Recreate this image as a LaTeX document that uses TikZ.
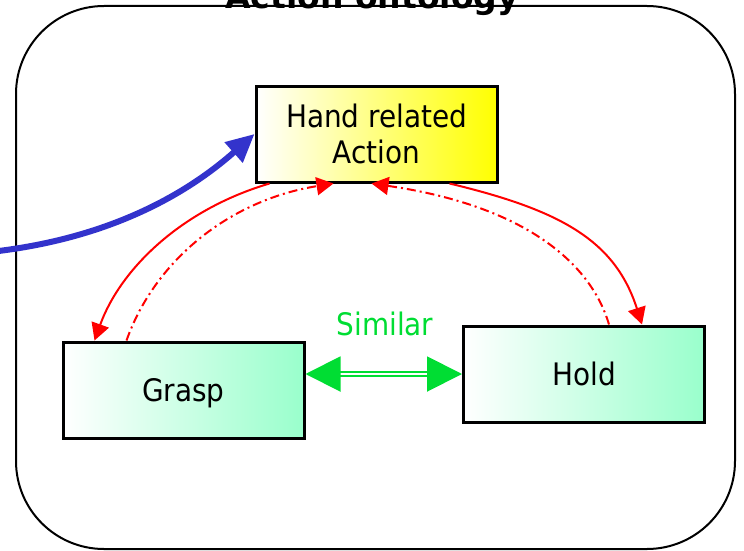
\documentclass[tikz,border=0pt]{standalone}
\usepackage{fontspec}
\setmainfont{DejaVu Sans Condensed}
\newfontfamily\titlefont{DejaVu Sans}
\usetikzlibrary{arrows.meta,calc}

\definecolor{mint}{RGB}{153,255,204}
\definecolor{linkred}{RGB}{255,0,0}
\definecolor{simgreen}{RGB}{0,221,51}
\definecolor{inblue}{RGB}{51,51,204}

\tikzset{
  concept/.style={draw=black, line width=3pt, rectangle, inner sep=0pt,
    minimum width=241pt, minimum height=96pt, align=center,
    font=\fontsize{31}{36}\selectfont},
  subconcept/.style={concept, left color=white, right color=mint,
    text height=22pt, text depth=0pt},
  isa/.style={draw=linkred, line width=2pt, -{Triangle[length=17pt,width=18pt]}},
  isaback/.style={isa, dash pattern=on 9pt off 4pt on 2pt off 4pt},
  simlink/.style={draw=simgreen, line width=2pt, double=white, double distance=2pt,
    {Triangle[length=35pt,width=35pt]}-{Triangle[length=35pt,width=35pt]}},
  inlink/.style={draw=inblue, line width=6pt, -{Triangle[length=28pt,width=26pt]}}
}

\begin{document}
\begin{tikzpicture}[x=1pt,y=-1pt]
  \clip (0,0) rectangle (744,551);

  % frame of the ontology with its title
  \draw[line width=2pt, rounded corners=88pt] (16,6) rectangle (735,549);
  \node[anchor=base, font=\titlefont\fontsize{33}{38}\selectfont\bfseries] (title) at (372,9) {Action ontology};

  % concepts
  \node[concept, left color=white, right color=yellow] (act) at (376.5,134) {Hand related\\Action};
  \node[subconcept] (grasp) at (183.5,390) {Grasp};
  \node[subconcept] (hold) at (584,374) {Hold};

  % similarity link
  \draw[simlink] (grasp.east |- hold.west) -- (hold.west);
  \node[text=simgreen, font=\fontsize{31}{36}\selectfont, anchor=base] (simlabel) at (385,335) {Similar};

  % specialisation links
  \draw[isa] ([xshift=15pt]act.south west) .. controls (180,210) and (120,270) .. ([xshift=33pt]grasp.north west);
  \draw[isaback] ([xshift=65pt]grasp.north west) .. controls (155,260) and (230,200) .. ([xshift=79pt]act.south west);
  \draw[isa] ([xshift=-49pt]act.south east) .. controls (560,210) and (615,240) .. ([xshift=-64pt]hold.north east);
  \draw[isaback] ([xshift=-97pt]hold.north east) .. controls (590,260) and (520,205) .. ([xshift=-127pt]act.south east);

  % incoming link from outside the ontology
  \coordinate (src) at (-10,252);
  \draw[inlink] (src) .. controls (100,240) and (180,200) .. (act.west);
\end{tikzpicture}
\end{document}
